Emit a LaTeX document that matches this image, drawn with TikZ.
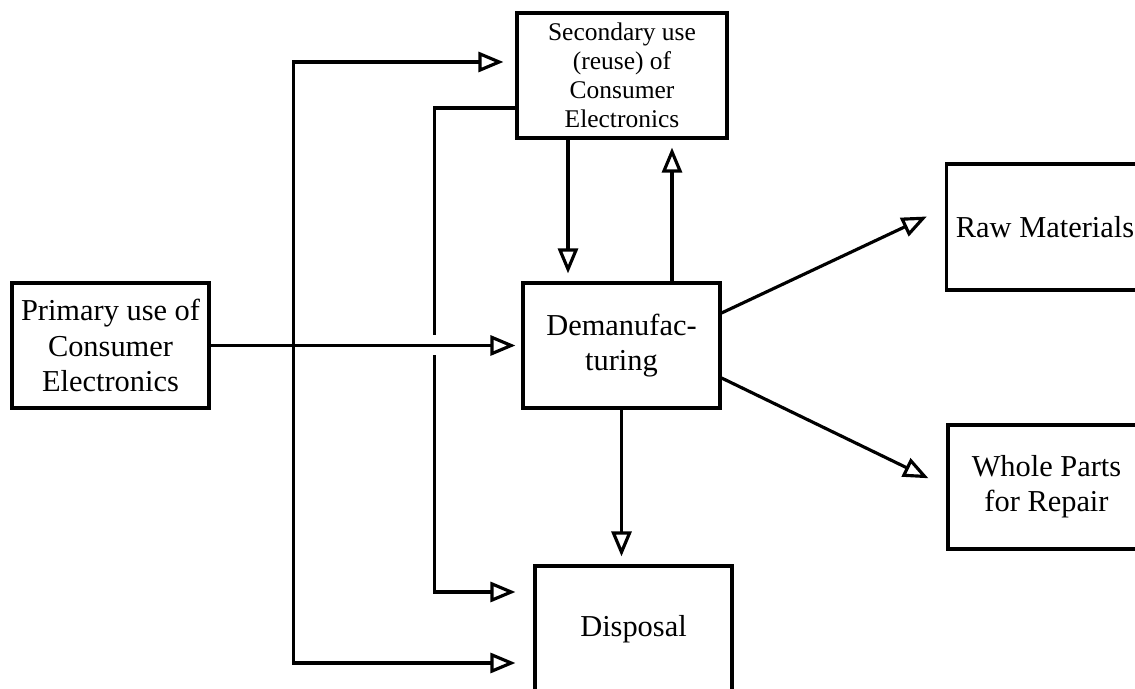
\documentclass[tikz,border=0pt]{standalone}
\usepackage{fontspec}
\setmainfont{Liberation Serif}
\usetikzlibrary{arrows.meta,calc}
\begin{document}
\begin{tikzpicture}[
      line width=1.8pt,
      every node/.style={font=\fontsize{17.3}{20}\selectfont},
      box/.style={draw, align=center, inner sep=2pt,
        minimum width=3.94cm, minimum height=2.5cm},
      arr/.style={-{Triangle[open, length=0.5cm, width=0.4cm]}, shorten >=0.16cm},
    ]
    \useasboundingbox (0,0) rectangle (22.7,13.78);
    \clip (0,0) rectangle (22.7,13.78);

    \node[box] (prim) at (2.21, 6.87) {Primary use of\\Consumer\\Electronics};
    \node[box, minimum width=4.2cm, font=\fontsize{14.5}{16.6}\selectfont]
      (sec) at (12.44, 12.27) {Secondary use\\(reuse) of\\Consumer\\Electronics};
    \node[box] (dem) at (12.43, 6.87) {Demanufac-\\turing};
    \node[box, minimum height=2.52cm] (raw) at (20.9, 9.24) {Raw Materials};
    \node[box, minimum height=2.48cm] (whole) at (20.93, 4.04) {Whole Parts\\for Repair};
    \node[box, minimum height=2.52cm] (disp) at (12.67, 1.2) {Disposal};

    \coordinate (split) at ($(prim.east)+(1.66,0)$);
    \coordinate (gap) at ($(prim.east)+(4.48,0)$);

    \draw[arr, shorten >=0.12cm] (prim.east) -- (dem.west);
    \draw[arr, shorten >=0.24cm] (split) |- ([yshift=0.27cm]sec.west);
    \draw[arr, shorten >=0.36cm] (split) |- ([yshift=-0.68cm]disp.west);

    \draw ([yshift=-0.65cm]sec.west) -| ([yshift=0.2cm]gap);
    \draw[arr, shorten >=0.36cm] ([yshift=-0.2cm]gap) |- ([yshift=0.74cm]disp.west);

    \draw[arr] ([xshift=-1.08cm]sec.south) -- ([xshift=-1.08cm]sec.south |- dem.north);
    \draw[arr] ([xshift=1.01cm]dem.north) -- ([xshift=1.01cm]dem.north |- sec.south);
    \draw[arr] (dem.south) -- (dem.south |- disp.north);

    \draw[arr, shorten >=0.4cm] ([yshift=0.65cm]dem.east) -- ([yshift=0.38cm]raw.west);
    \draw[arr, shorten >=0.4cm] ([yshift=-0.65cm]dem.east) -- (whole.west);
  \end{tikzpicture}
\end{document}
